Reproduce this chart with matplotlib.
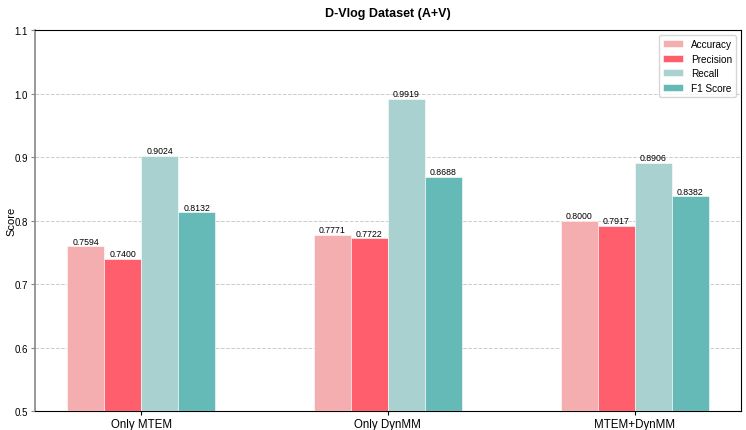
import numpy as np
import matplotlib
matplotlib.use("Agg")
import matplotlib.pyplot as plt

plt.rcParams['font.family'] = ['Liberation Sans', 'DejaVu Sans']

groups = ['Only MTEM', 'Only DynMM', 'MTEM+DynMM']
metrics = ['Accuracy', 'Precision', 'Recall', 'F1 Score']
accuracy = [0.7594, 0.7771, 0.8000]
precision = [0.7400, 0.7722, 0.7917]
recall = [0.9024, 0.9919, 0.8906]
f1 = [0.8132, 0.8688, 0.8382]
colors = ['#F5AEAF', '#FF5F6C', '#A8D1CF', '#65BAB7']

fig, ax = plt.subplots(figsize=(7.46, 4.31), dpi=100)
x = np.arange(len(groups))
w = 0.15
series = [accuracy, precision, recall, f1]
for i, (vals, name, c) in enumerate(zip(series, metrics, colors)):
    bars = ax.bar(x + (i - 1.5) * w, vals, w, label=name, color=c,
                  edgecolor='white', linewidth=0.4, zorder=3)
    for b, v in zip(bars, vals):
        ax.text(b.get_x() + b.get_width() / 2, v + 0.001, f'{v:.4f}',
                ha='center', va='bottom', fontsize=6.3)

ax.set_ylim(0.5, 1.1)
ax.set_xticks(x)
ax.set_xticklabels(groups, fontsize=8.3)
ax.tick_params(axis='x', length=3, pad=2)
ax.tick_params(axis='y', labelsize=7, length=3, pad=2, color='#888888')
ax.set_ylabel('Score', fontsize=8)
ax.yaxis.set_label_coords(-0.027, 0.5)
ax.set_title('D-Vlog Dataset (A+V)', fontsize=9, fontweight='bold', pad=10)
ax.yaxis.grid(True, linestyle='--', color='#cccccc', linewidth=0.7, zorder=0)
ax.spines['left'].set_color('#888888')
ax.spines['left'].set_linewidth(1.2)
ax.legend(fontsize=7.2, loc='upper right', handlelength=2.0, labelspacing=0.45)
fig.subplots_adjust(left=0.047, right=0.993, top=0.928, bottom=0.044)
fig.savefig('out.png', dpi=100)
